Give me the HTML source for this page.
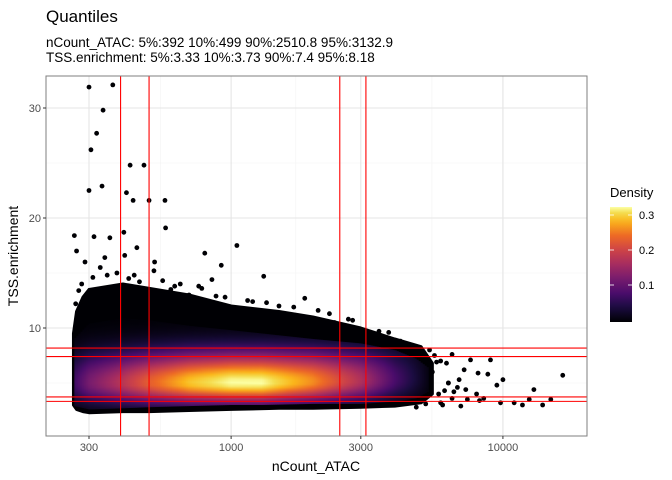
<!DOCTYPE html>
<html><head><meta charset="utf-8"><style>
body{margin:0;background:#fff}
svg{display:block;font-family:"Liberation Sans",sans-serif}
</style></head><body>
<svg id="c" width="672" height="480" viewBox="0 0 672 480">
<defs><clipPath id="pc"><rect x="46" y="76" width="541" height="360"/></clipPath>
<linearGradient id="lg" x1="0" y1="1" x2="0" y2="0"></linearGradient></defs>
<rect x="46" y="76" width="541" height="360" fill="#fff"/>
<g id="grid"></g>
<g id="marks" clip-path="url(#pc)"></g>
<rect x="46" y="76" width="541" height="360" fill="none" stroke="#7f7f7f" stroke-width="1"/>
<g id="axes"></g>
<text x="46" y="22" font-size="17" fill="#000">Quantiles</text>
<text x="46" y="47" font-size="13.5" fill="#000">nCount_ATAC: 5%:392 10%:499 90%:2510.8 95%:3132.9</text>
<text x="46" y="62" font-size="13.5" fill="#000">TSS.enrichment: 5%:3.33 10%:3.73 90%:7.4 95%:8.18</text>
<text x="316" y="471" font-size="14" text-anchor="middle">nCount_ATAC</text>
<text transform="translate(18,256) rotate(-90)" font-size="14" text-anchor="middle">TSS.enrichment</text>
<g id="legend"></g>
</svg>
<script>
const xTicks=[300,1000,3000,10000];
const xMinor=[550,1730,5480];
const yTicks=[10,20,30];
const yMinor=[5,15,25];
const vQuant=[392,499,2510.8,3132.9];
const hQuant=[3.33,3.73,7.4,8.18];
const colX=[265,300,400,500,700,1000,1300,2000,3000,4000,4800,5300];
const colLo=[2.9,2.6,2.7,2.8,2.9,3.0,3.0,3.1,3.1,3.3,3.6,4.2];
const colHi=[9.0,10.4,10.9,10.7,10.2,9.8,9.5,9.0,8.6,8.0,7.2,6.4];
const colPeak=[0.07,0.12,0.18,0.23,0.29,0.32,0.32,0.26,0.17,0.08,0.035,0.01];
const colCenter=[5.0,5.0,5.0,5.0,5.0,5.0,5.0,5.1,5.2,5.3,5.4,5.4];
const cloudX=[263,270,285,300,400,500,700,1000,1500,2000,3000,4000,5000,5500];
const cloudHi=[9.5,11.5,12.8,13.5,14.0,13.6,13.0,12.0,11.5,11.0,10.0,9.0,8.3,6.8];
const cloudLo=[3.0,2.6,2.4,2.3,2.4,2.4,2.5,2.6,2.7,2.7,2.8,2.9,3.2,4.0];
const ptX=[300,367,338,320,305,425,478,300,335,412,436,499,571,265,313,358,403,406,343,450,523,574,800,1050,920,1318,1866,2090,2400,2700,3300,270,290,330,380,420,460,520,600,650,700,760,850,950,1150,1500,1700,4300,4600,5000,5370,5600,5900,6200,6500,6900,7200,7600,8000,8500,9000,9500,10000,11000,11800,13000,15000,16600,6000,7000,8200,4800,5200,6600,7400,9800,12500,14000,5500,6300,8800,
4500,4900,5300,5700,6100,6500,5100,5800,6800,4700,5900,6300,7300,8100,
268,275,282,310,350,440,560,620,780,880,1200,1350,1700,2300,2800,3500,3800,4200];
const ptY=[31.9,32.1,29.8,27.7,26.2,24.8,24.8,22.5,22.9,22.3,21.6,21.6,21.6,18.4,18.3,18.2,18.7,16.6,16.4,17.3,16.0,19.1,16.8,17.5,15.7,14.7,12.7,11.6,10.5,10.8,9.3,17.0,16.0,15.5,15.0,14.5,14.2,15.2,13.5,14.0,13.0,13.8,14.4,12.8,12.5,12.0,11.0,8.5,8.2,7.8,8.0,7.5,7.0,6.8,7.6,5.3,6.2,7.1,4.0,3.6,7.1,4.8,5.3,3.2,3.0,4.4,3.5,5.7,3.0,2.9,3.4,2.8,3.1,4.2,3.5,3.2,3.5,3.0,6.0,5.0,5.8,
4.5,6.5,3.8,6.9,4.3,3.6,5.6,4.0,4.6,6.2,3.2,5.0,4.4,5.9,
12.2,13.4,14.0,14.6,14.8,14.8,14.3,13.8,13.6,12.9,12.4,12.3,11.9,11.3,10.7,9.7,9.6,8.8];
const legTicks=[0.1,0.2,0.3];

const NS='http://www.w3.org/2000/svg';
const L=46,R=587,T=76,B=436;
function xs(v){return 89+(Math.log10(v)-Math.log10(300))*271.8;}
function ys(v){return 438-11*v;}
function mk(t,a,p){const e=document.createElementNS(NS,t);for(const k in a)e.setAttribute(k,a[k]);(p||document.getElementById('marks')).appendChild(e);return e;}
const inf=[[0,[0,0,4]],[0.13,[27,12,65]],[0.25,[74,12,107]],[0.38,[120,28,109]],[0.5,[165,44,96]],[0.63,[207,68,70]],[0.75,[237,105,37]],[0.88,[251,182,26]],[0.95,[244,221,79]],[1,[252,255,164]]];
function col(t){t=Math.max(0,Math.min(1,t));for(let i=1;i<inf.length;i++){if(t<=inf[i][0]){const a=inf[i-1],b=inf[i],f=(t-a[0])/(b[0]-a[0]);const c=a[1].map((v,j)=>Math.round(v+(b[1][j]-v)*f));return 'rgb('+c.join(',')+')';}}return 'rgb(252,255,164)';}
const grid=document.getElementById('grid'),axes=document.getElementById('axes');
xMinor.forEach(v=>{const e=mk('line',{x1:xs(v),x2:xs(v),y1:T,y2:B,stroke:'#f3f3f3','stroke-width':0.6},grid);});
yMinor.forEach(v=>{const e=mk('line',{x1:L,x2:R,y1:ys(v),y2:ys(v),stroke:'#f3f3f3','stroke-width':0.6},grid);});
xTicks.forEach(v=>{const e=mk('line',{x1:xs(v),x2:xs(v),y1:T,y2:B,stroke:'#e5e5e5','stroke-width':1.1},grid);
const k=mk('line',{x1:xs(v),x2:xs(v),y1:B,y2:B+3,stroke:'#333'},axes);
const t=mk('text',{x:xs(v),y:B+15,'font-size':11,'text-anchor':'middle',fill:'#4d4d4d'},axes);t.textContent=v;});
yTicks.forEach(v=>{const e=mk('line',{x1:L,x2:R,y1:ys(v),y2:ys(v),stroke:'#e5e5e5','stroke-width':1.1},grid);
const k=mk('line',{x1:L-3,x2:L,y1:ys(v),y2:ys(v),stroke:'#333'},axes);
const t=mk('text',{x:L-5,y:ys(v)+4,'font-size':11,'text-anchor':'end',fill:'#4d4d4d'},axes);t.textContent=v;});
ptX.forEach((v,i)=>{const e=mk('circle',{cx:xs(v),cy:ys(ptY[i]),r:2.4,fill:'#000004'});});
let pts=cloudX.map((v,i)=>xs(v)+','+ys(cloudHi[i]));
for(let i=cloudX.length-1;i>=0;i--)pts.push(xs(cloudX[i])+','+ys(cloudLo[i]));
const cl=mk('polygon',{points:pts.join(' '),fill:'#000004',stroke:'#000004','stroke-width':3,'stroke-linejoin':'round'});

const defs=document.querySelector('defs');
const x0=xs(colX[0]),x1=xs(colX[colX.length-1]);
function interp(arr,px){for(let i=1;i<colX.length;i++){const a=xs(colX[i-1]),b=xs(colX[i]);if(px<=b){const f=(px-a)/(b-a);return arr[i-1]+(arr[i]-arr[i-1])*f;}}return arr[arr.length-1];}
let gi=0;
for(let px=x0;px<x1;px+=2){const m=px+1,lo=interp(colLo,m),hi=interp(colHi,m),pk=interp(colPeak,m),c=interp(colCenter,m);
const g=document.createElementNS(NS,'linearGradient');g.setAttribute('id','g'+gi);g.setAttribute('x1',0);g.setAttribute('y1',0);g.setAttribute('x2',0);g.setAttribute('y2',1);
for(let s=0;s<=20;s++){const tv=hi-(hi-lo)*s/20;const sg=tv>c?1.9:1.25;const d=pk*Math.exp(-Math.pow(tv-c,2)/(2*sg*sg));const st=document.createElementNS(NS,'stop');st.setAttribute('offset',s/20);st.setAttribute('stop-color',col(d/0.32));g.appendChild(st);}
defs.appendChild(g);
const e=mk('rect',{x:px,y:ys(hi),width:2.3,height:ys(lo)-ys(hi),fill:'url(#g'+gi+')'});gi++;}
vQuant.forEach(v=>{const e=mk('line',{x1:xs(v),x2:xs(v),y1:T,y2:B,stroke:'#ff0000','stroke-width':1.1});});
hQuant.forEach(v=>{const e=mk('line',{x1:L,x2:R,y1:ys(v),y2:ys(v),stroke:'#ff0000','stroke-width':1.1});});
const lg=document.getElementById('legend');
const lt=mk('text',{x:610,y:197,'font-size':13},lg);lt.textContent='Density';
const grad=document.getElementById('lg');for(let s=0;s<=20;s++){const st=document.createElementNS(NS,'stop');st.setAttribute('offset',s/20);st.setAttribute('stop-color',col(s/20));grad.appendChild(st);}
const ly=v=>320-v*350;
const bar=mk('rect',{x:610,y:207,width:22,height:115,fill:'url(#lg)'},lg);
legTicks.forEach(v=>{const a=mk('line',{x1:610,x2:614,y1:ly(v),y2:ly(v),stroke:'#fff','stroke-width':0.8},lg);
const b=mk('line',{x1:628,x2:632,y1:ly(v),y2:ly(v),stroke:'#fff','stroke-width':0.8},lg);
const t=mk('text',{x:639,y:ly(v)+4,'font-size':11,fill:'#000'},lg);t.textContent=v;});
</script>
</body></html>
